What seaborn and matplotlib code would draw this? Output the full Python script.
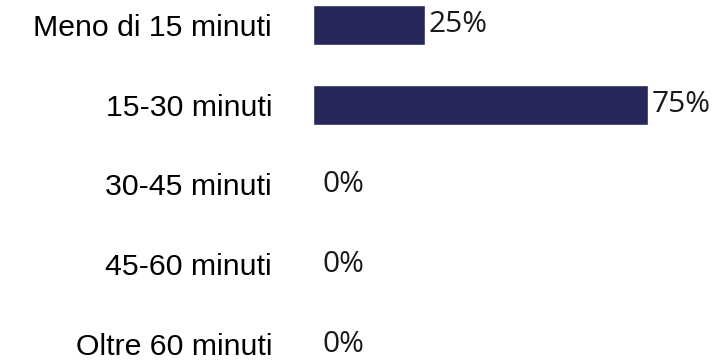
import matplotlib
matplotlib.use("Agg")
import matplotlib.pyplot as plt
import seaborn as sns
import pandas as pd

categories = ["Meno di 15 minuti", "15-30 minuti", "30-45 minuti", "45-60 minuti", "Oltre 60 minuti"]
values = [25, 75, 0, 0, 0]
value_labels = ["25%", "75%", "0%", "0%", "0%"]

df = pd.DataFrame({"cat": categories, "val": values})

sns.set_theme(style="white")
plt.rcParams['font.family'] = ['Liberation Sans', 'DejaVu Sans']

fig = plt.figure(figsize=(7.2, 3.61), dpi=100)
ax = fig.add_axes([313/720, 0, 1 - 313/720, 1])
sns.barplot(data=df, x="val", y="cat", orient="h", color="#27285a", width=0.5,
            saturation=1, ax=ax)
ax.set_xlim(0, 91.1)
ax.set_ylim(4.213, -0.313)
ax.set_xlabel("")
ax.set_ylabel("")
ax.set_xticks([])
for s in ax.spines.values():
    s.set_visible(False)
ax.tick_params(axis="y", length=0, pad=29.5, labelsize=21.8, labelcolor="black")

for i, (v, lab) in enumerate(zip(values, value_labels)):
    off = 2.5 if v > 0 else 7
    ax.annotate(lab, (v, i), xytext=(off, 0), textcoords="offset points",
                va="center", ha="left", fontsize=21.5, family=["Open Sans", "DejaVu Sans"],
                color="#1a1a1a")

fig.savefig("out.png", dpi=100)
